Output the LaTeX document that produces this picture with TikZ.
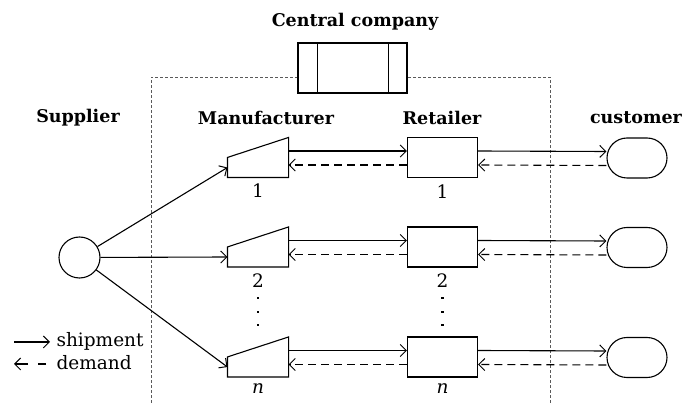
\documentclass[tikz,border=0pt]{standalone}
\usepackage{fontspec}
\setmainfont{DejaVu Serif}
\usetikzlibrary{positioning,calc,shapes.misc,arrows.meta}

\begin{document}
\begin{tikzpicture}[x=1pt,y=-1pt,
  line width=1.1pt,
  >={Straight Barb[length=6pt,width=12pt,line width=1pt]},
  hd/.style={font=\bfseries\fontsize{17.5}{20}\selectfont},
  lbl/.style={font=\fontsize{18.5}{21}\selectfont,inner sep=1pt},
  mfr/.style={minimum width=60pt,minimum height=39pt,inner sep=0pt},
  ret/.style={draw,minimum width=70pt,minimum height=40pt,inner sep=0pt},
  cust/.style={draw,rounded rectangle,minimum width=60pt,minimum height=40pt,inner sep=0pt},
  ship/.style={->},
  dmd/.style={->,dash pattern=on 8pt off 5pt},
  frame/.style={line width=0.8pt,gray!70!black,dash pattern=on 3pt off 2pt}]
  \useasboundingbox (0,0) rectangle (686,403);

  % headings
  \node[hd] (hcen) at (355,22) {Central company};
  \node[hd] (hsup) at (78,118) {Supplier};
  \node[hd] (hman) at (266,118) {Manufacturer};
  \node[hd] (hret) at (442,118) {Retailer};
  \node[hd] (hcus) at (636,118) {customer};

  % central company and its frame
  \node[draw,minimum width=109pt,minimum height=50pt,inner sep=0pt] (cc) at (352.5,68) {};
  \draw ([xshift=20pt]cc.north west) -- ([xshift=20pt]cc.south west);
  \draw ([xshift=-19pt]cc.north east) -- ([xshift=-19pt]cc.south east);
  \coordinate (fl) at (151,403);
  \coordinate (fr) at (550,403);
  \draw[frame] (fl) |- ([yshift=-9pt]cc.west);
  \draw[frame] (fr) |- ([yshift=-9pt]cc.east);

  % supplier
  \node[draw,circle,minimum size=41pt,inner sep=0pt] (sup) at (79.5,257.5) {};

  % chains
  \foreach \i/\y/\lab in {1/157.5/1, 2/247/2, 3/357/\textit{n}}{
    \node[mfr] (m\i) at (258,\y) {};
    \draw (m\i.south west) -- (m\i.south east) -- (m\i.north east)
      -- ([yshift=-20pt]m\i.north west) -- cycle;
    \coordinate (m\i in) at ([yshift=-10pt]m\i.west);
    \node[ret] (r\i) at (442.5,\y) {};
    \node[cust] (c\i) at (637,\y+0.5) {};
    \node[lbl,below=5pt of m\i] (lm\i) {\lab};
    \node[lbl,below=5pt of r\i] (lr\i) {\lab};
    \draw[ship] (sup) -- (m\i in);
    \draw[ship] ([yshift=6.5pt]m\i.east) -- ([yshift=6.5pt]r\i.west);
    \draw[dmd] ([yshift=-7.5pt]r\i.west) -- ([yshift=-7.5pt]m\i.east);
    \draw[ship] ([yshift=6.5pt]r\i.east) -- ([yshift=6.5pt]c\i.west);
    \draw[dmd] ([yshift=-7.5pt]c\i.west) -- ([yshift=-7.5pt]r\i.east);
  }

  % dots between row 2 and row n
  \foreach \n in {m,r}{
    \foreach \d in {298,312,325}
      \fill ([shift={(-1.4pt,-1.4pt)}]\n2.center |- 0,\d) rectangle ++(2.8pt,2.8pt);
  }

  % legend
  \coordinate (la) at (14,342);
  \coordinate (lb) at (50,342);
  \coordinate (lc) at (14,364);
  \coordinate (ld) at (46,364);
  \draw[ship] (la) -- (lb);
  \draw[->,dash pattern=on 8pt off 10pt on 30pt] (ld) -- (lc);
  \node[lbl,anchor=west] (lship) at (55,341) {shipment};
  \node[lbl,anchor=west] (ldmd) at (55,363) {demand};
\end{tikzpicture}
\end{document}
